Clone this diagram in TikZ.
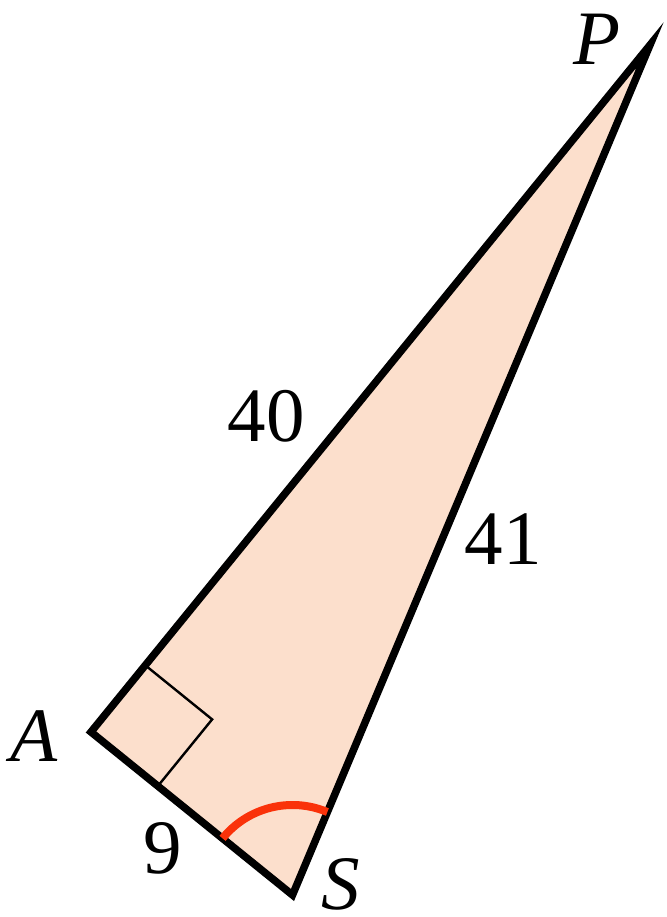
\documentclass[tikz,border=0pt]{standalone}
\usepackage{fontspec}
\setmainfont{Liberation Serif}
\usetikzlibrary{calc}
\definecolor{peach}{RGB}{252,223,204}
\definecolor{arcred}{RGB}{250,50,10}
\begin{document}
\begin{tikzpicture}[x=1pt,y=1pt,
  side/.style={draw=black,line width=7.5pt,line join=miter,fill=peach},
  marker/.style={draw=black,line width=2.4pt},
  anglearc/.style={draw=arcred,line width=8pt},
  lbl/.style={inner sep=0pt,font=\fontsize{77}{80}\selectfont},
  vlbl/.style={lbl,font=\fontsize{77}{80}\selectfont\itshape}]
\useasboundingbox (0,0) rectangle (666,917);
\coordinate (A) at (91,185);
\coordinate (S) at (292.5,22);
\coordinate (P) at (650,872);
\draw[side] (A) -- (P) -- (S) -- cycle;
\coordinate (ra1) at ($(A)!86pt!(P)$);
\coordinate (ra2) at ($(A)!86pt!(S)$);
\coordinate (rac) at ($(ra1)+(ra2)-(A)$);
\draw[marker] (ra1) -- (rac) -- (ra2);
\coordinate (arcstart) at ($(S)+(141:90)$);
\draw[anglearc] (arcstart) arc[start angle=141,end angle=67.2,radius=90];
\node[vlbl] (lP) at (597,878) {P};
\node[vlbl] (lA) at (34,181) {A};
\node[vlbl] (lS) at (341,33) {S};
\node[lbl] (l40) at (266,501) {40};
\node[lbl] (l41) at (503,378) {41};
\node[lbl] (l9) at (163,69) {9};
\end{tikzpicture}
\end{document}
